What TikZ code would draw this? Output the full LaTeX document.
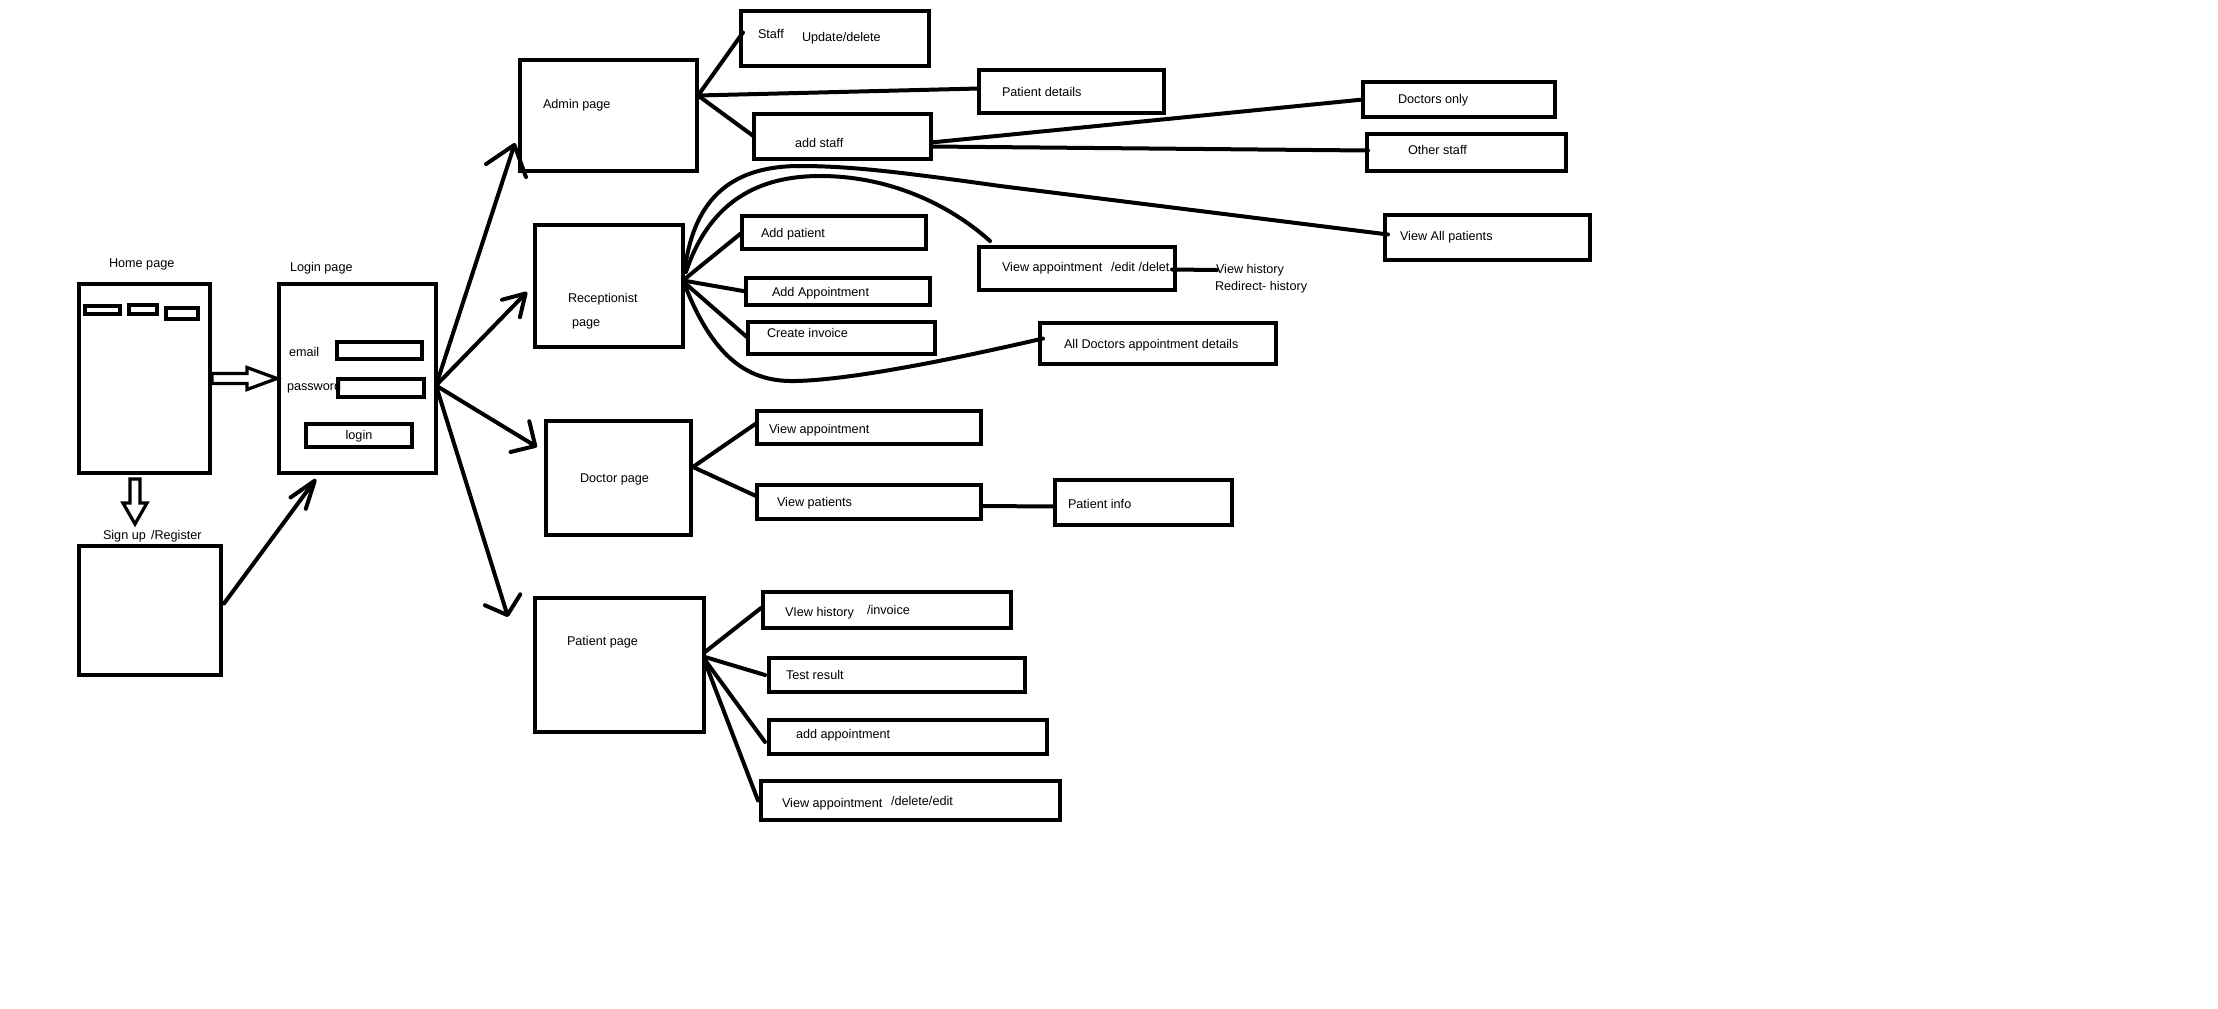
\documentclass[tikz,border=0pt]{standalone}
\usepackage{fontspec}
\setmainfont{Liberation Sans}
\usetikzlibrary{arrows.meta,calc}

% \uibox[style]{name}{x1}{y1}{x2}{y2}: a rectangle node given by its corners (pixel units)
\newcommand\uibox[6][pagebox]{%
  \node[#1, minimum width={(#5-#3)*0.02cm}, minimum height={(#6-#4)*0.02cm}]
    (#2) at ({(#3+#5)/2},{(#4+#6)/2}) {};}

\begin{document}
\begin{tikzpicture}[x=0.02cm,y=-0.02cm,
  pagebox/.style={draw=black, line width=0.09cm, inner sep=0pt, outer sep=0pt},
  thinbox/.style={pagebox, line width=0.07cm},
  txt/.style={inner sep=0pt, outer sep=0pt, anchor=west, text height=5pt, text depth=0pt,
              font=\fontsize{7.2}{8.6}\selectfont, text=black},
  ctxt/.style={txt, anchor=center},
  conn/.style={draw=black, line width=0.08cm, line cap=round, line join=round},
  barb/.style 2 args={-{Straight Barb[length=#1,width=#2,round]}},
  hollow/.style={draw=black, line width=0.065cm, line join=miter, fill=white}]

\fill[white] (0,0) rectangle (2218,1008);
\useasboundingbox (0,0) rectangle (2218,1008);

% ---------- home page ----------
\uibox{home}{79}{284}{210}{473}
\node[txt] (homet) at (109,263) {Home page};
\uibox[thinbox]{tab1}{85}{306}{120}{314}
\uibox[thinbox]{tab2}{129}{305}{157}{314}
\uibox[thinbox]{tab3}{166}{308}{198}{319}

% ---------- login page ----------
\uibox{login}{279}{284}{436}{473}
\node[txt] (logint) at (290,267) {Login page};
\node[txt] (emailt) at (289,352) {email};
\node[txt] (passt) at (287,386) {password};
\uibox[thinbox]{emailf}{337}{342}{422}{359}
\uibox[thinbox]{passf}{338}{379}{424}{397}
\uibox[thinbox]{loginbtn}{306}{424}{412}{447}
\node[ctxt] (loginbt) at (loginbtn.center) {login};

% ---------- sign up ----------
\node[txt] (signt) at (103,535) {Sign up};
\node[txt] (regt) at (151,535) {/Register};
\uibox{signup}{79}{546}{221}{675}

% ---------- admin ----------
\uibox{admin}{520}{60}{697}{171}
\node[txt] (admint) at (543,104) {Admin page};
\uibox{staff}{741}{11}{929}{66}
\node[txt] (stafft) at (758,34) {Staff};
\node[txt] (updt) at (802,37) {Update/delete};
\uibox{pdet}{979}{70}{1164}{113}
\node[txt] (pdett) at (1002,92) {Patient details};
\uibox{addstaff}{754}{114}{931}{159}
\node[txt] (addstafft) at (795,143) {add staff};
\uibox{doconly}{1363}{82}{1555}{117}
\node[txt] (doconlyt) at (1398,99) {Doctors only};
\uibox{other}{1367}{134}{1566}{171}
\node[txt] (othert) at (1408,150) {Other staff};
\uibox{viewall}{1385}{215}{1590}{260}
\node[txt] (viewallt) at (1400,236) {View All patients};

% ---------- receptionist ----------
\uibox{rec}{535}{225}{683}{347}
\node[txt] (rect) at (568,298) {Receptionist};
\node[txt] (recpt) at (572,322) {page};
\uibox{addpat}{742}{216}{926}{249}
\node[txt] (addpatt) at (761,233) {Add patient};
\uibox{addappt}{746}{278}{930}{305}
\node[txt] (addapptt) at (772,292) {Add Appointment};
\uibox{createinv}{748}{322}{935}{354}
\node[txt] (createinvt) at (767,333) {Create invoice};
\uibox{rva}{979}{247}{1175}{290}
\node[txt] (rvat) at (1002,267) {View appointment\hspace{3pt} /edit /delet};
\node[txt] (vhist) at (1216,269) {View history};
\node[txt] (redir) at (1215,286) {Redirect- history};
\uibox{alldoc}{1040}{323}{1276}{364}
\node[txt] (alldoct) at (1064,344) {All Doctors appointment details};

% ---------- doctor ----------
\uibox{doc}{546}{421}{691}{535}
\node[txt] (doct) at (580,478) {Doctor page};
\uibox{dva}{757}{411}{981}{444}
\node[txt] (dvat) at (769,429) {View appointment};
\uibox{dvp}{757}{485}{981}{519}
\node[txt] (dvpt) at (777,502) {View patients};
\uibox{pinfo}{1055}{480}{1232}{525}
\node[txt] (pinfot) at (1068,504) {Patient info};

% ---------- patient ----------
\uibox{pat}{535}{598}{704}{732}
\node[txt] (patt) at (567,641) {Patient page};
\uibox{pvh}{763}{592}{1011}{628}
\node[txt] (pvht) at (785,612) {VIew history};
\node[txt] (pinvt) at (867,610) {/invoice};
\uibox{ptr}{769}{658}{1025}{692}
\node[txt] (ptrt) at (786,675) {Test result};
\uibox{paa}{769}{720}{1047}{754}
\node[txt] (paat) at (796,734) {add appointment};
\uibox{pva}{761}{781}{1060}{820}
\node[txt] (pvat) at (782,803) {View appointment};
\node[txt] (pdelt) at (891,801) {/delete/edit};

% ---------- hollow block arrows from the home page ----------
\coordinate (ha) at ($(home.east)+(2,0)$);
\coordinate (hb) at ($(login.west)+(-2,0)$);
\draw[hollow] ($(ha)+(0,-5)$) -- ($(hb)+(-30,-5)$) -- ($(hb)+(-30,-11)$) -- (hb)
  -- ($(hb)+(-30,11)$) -- ($(hb)+(-30,5)$) -- ($(ha)+(0,5)$) -- cycle;
\coordinate (da) at ($(home.south)+(-9.5,6)$);
\coordinate (db) at ($(signup.north)+(-15,-22)$);
\draw[hollow] ($(da)+(-5,0)$) -- ($(da)+(5,0)$) -- ($(db)+(5,-21)$) -- ($(db)+(12,-21)$)
  -- (db) -- ($(db)+(-12,-21)$) -- ($(db)+(-5,-21)$) -- cycle;

% ---------- sign up to login ----------
\draw[conn,barb={0.56cm}{0.38cm}] ($(signup.east)+(3,-7)$) -- ($(login.south west)+(37,6)$);

% ---------- login to the four role pages ----------
\coordinate (lhub) at ($(login.east)+(0,7)$);
\draw[conn,barb={0.54cm}{0.84cm}] (lhub) -- ($(admin.south west)+(-5,-28)$);
\draw[conn,barb={0.42cm}{0.5cm}] (lhub) -- ($(rec.west)+(-8,6)$);
\draw[conn,barb={0.36cm}{0.72cm}] (lhub) -- ($(doc.north west)+(-9,26)$);
\draw[conn,barb={0.32cm}{0.74cm}] (lhub) -- ($(pat.north west)+(-27,19)$);

% ---------- admin links ----------
\coordinate (ahub) at ($(admin.east)+(1,-20)$);
\draw[conn] (ahub) -- ($(staff.west)+(2,-6)$);
\draw[conn] (ahub) -- ($(pdet.west)+(0,-3)$);
\draw[conn] (ahub) -- (addstaff.west);
\draw[conn] ($(addstaff.east)+(0,6)$) -- (doconly.west);
\draw[conn] ($(addstaff.east)+(0,10)$) -- ($(other.west)+(1,-2)$);

% ---------- receptionist links ----------
\coordinate (rhub) at ($(rec.east)+(3,-8)$);
\draw[conn] ($(rec.east)+(2,-18)$) .. controls (695,195) and (735,166) .. (800,166)
  .. controls (850,166) and (900,172) .. (1000,186) -- ($(viewall.west)+(3,-3)$);
\draw[conn] ($(rec.east)+(3,-14)$) .. controls (710,200) and (760,176) .. (820,176)
  .. controls (890,176) and (950,205) .. ($(rva.north west)+(11,-6)$);
\draw[conn] ($(rec.east)+(3,2)$) .. controls (715,360) and (750,382) .. (795,381)
  .. controls (850,380) and (950,360) .. ($(alldoc.west)+(3,-5)$);
\draw[conn] (rhub) -- (addpat.west);
\draw[conn] ($(rhub)+(0,3)$) -- (addappt.west);
\draw[conn] ($(rhub)+(0,6)$) -- (createinv.west);
\draw[conn] ($(rva.east)+(-3,1)$) -- ($(vhist.west)+(1,1)$);

% ---------- doctor links ----------
\coordinate (dhub) at ($(doc.east)+(2,-11)$);
\draw[conn] (dhub) -- ($(dva.west)+(-1,-4)$);
\draw[conn] (dhub) -- ($(dvp.west)+(-1,-6)$);
\draw[conn] ($(dvp.east)+(0,4)$) -- ($(pinfo.west)+(0,4)$);

% ---------- patient links ----------
\coordinate (phub) at ($(pat.east)+(1,-8)$);
\draw[conn] ($(phub)+(0,-5)$) -- ($(pvh.west)+(-2,-2)$);
\draw[conn] (phub) -- ($(ptr.west)+(-4,0)$);
\draw[conn] ($(phub)+(0,3)$) -- ($(paa.west)+(-4,5)$);
\draw[conn] ($(phub)+(0,5)$) -- ($(pva.west)+(-3,0)$);

\end{tikzpicture}
\end{document}
